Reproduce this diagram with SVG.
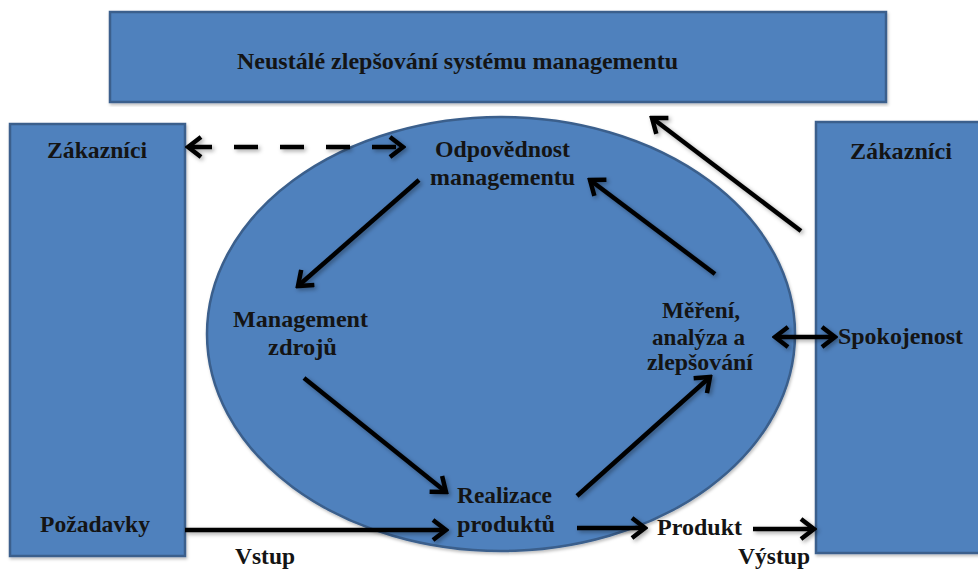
<svg xmlns="http://www.w3.org/2000/svg" width="978" height="569" viewBox="0 0 978 569">
  <style>
    .box { fill: #4F81BD; stroke: #3A5F8C; stroke-width: 2.5; }
    .lbl { font-family: "Liberation Serif", "Times New Roman", serif; font-weight: bold; font-size: 24px; fill: #141414; text-anchor: start; }
    .arrow { fill: none; stroke: #000; stroke-width: 4.5; }
    .dashed { stroke-dasharray: 24 22; }
  </style>
  <defs>
    <filter id="soft" x="-10%" y="-10%" width="120%" height="120%">
      <feDropShadow dx="2" dy="2" stdDeviation="2" flood-color="#000" flood-opacity="0.35"/>
    </filter>
    <filter id="boxShadow" x="-5%" y="-5%" width="110%" height="110%">
      <feDropShadow dx="1" dy="2" stdDeviation="1.5" flood-color="#000" flood-opacity="0.25"/>
    </filter>
    <marker id="head" viewBox="0 0 20 24" markerWidth="20" markerHeight="24" refX="17" refY="12" orient="auto-start-reverse" markerUnits="userSpaceOnUse">
      <path d="M4,2 L17,12 L4,22" fill="none" stroke="#000" stroke-width="4.5"/>
    </marker>
  </defs>

  <!-- Top banner -->
  <g id="node-improvement">
    <rect class="box" x="110" y="12" width="776" height="90" filter="url(#boxShadow)"/>
    <text class="lbl" x="237" y="69" textLength="441" lengthAdjust="spacingAndGlyphs">Neustálé zlepšování systému managementu</text>
  </g>

  <!-- Left customers column -->
  <g id="node-customers-in">
    <rect class="box" x="10" y="124" width="175" height="432" filter="url(#boxShadow)"/>
    <text class="lbl" x="47" y="158" textLength="100" lengthAdjust="spacingAndGlyphs">Zákazníci</text>
    <text class="lbl" x="40" y="532" textLength="110" lengthAdjust="spacingAndGlyphs">Požadavky</text>
  </g>

  <!-- Right customers column -->
  <g id="node-customers-out">
    <rect class="box" x="816" y="122" width="180" height="431" filter="url(#boxShadow)"/>
    <text class="lbl" x="850" y="159" textLength="102" lengthAdjust="spacingAndGlyphs">Zákazníci</text>
    <text class="lbl" x="838" y="344" textLength="125" lengthAdjust="spacingAndGlyphs">Spokojenost</text>
  </g>

  <!-- Central process cycle -->
  <g id="node-cycle">
    <ellipse class="box" cx="501" cy="334" rx="294" ry="217" filter="url(#boxShadow)"/>
  </g>

  <g id="node-responsibility">
    <text class="lbl" x="435" y="157" textLength="135" lengthAdjust="spacingAndGlyphs">Odpovědnost</text>
    <text class="lbl" x="430" y="185" textLength="145" lengthAdjust="spacingAndGlyphs">managementu</text>
  </g>

  <g id="node-resources">
    <text class="lbl" x="233" y="327" textLength="135" lengthAdjust="spacingAndGlyphs">Management</text>
    <text class="lbl" x="268" y="355" textLength="69" lengthAdjust="spacingAndGlyphs">zdrojů</text>
  </g>

  <g id="node-realization">
    <text class="lbl" x="457" y="503" textLength="95" lengthAdjust="spacingAndGlyphs">Realizace</text>
    <text class="lbl" x="457" y="532" textLength="98" lengthAdjust="spacingAndGlyphs">produktů</text>
  </g>

  <g id="node-measurement">
    <text class="lbl" x="662" y="318" textLength="78" lengthAdjust="spacingAndGlyphs">Měření,</text>
    <text class="lbl" x="652" y="345" textLength="93" lengthAdjust="spacingAndGlyphs">analýza a</text>
    <text class="lbl" x="647" y="370" textLength="106" lengthAdjust="spacingAndGlyphs">zlepšování</text>
  </g>

  <g id="node-product">
    <text class="lbl" x="657" y="535" textLength="85" lengthAdjust="spacingAndGlyphs">Produkt</text>
  </g>

  <g id="label-input">
    <text class="lbl" x="235" y="564" textLength="60" lengthAdjust="spacingAndGlyphs">Vstup</text>
  </g>

  <g id="label-output">
    <text class="lbl" x="738" y="564" textLength="72" lengthAdjust="spacingAndGlyphs">Výstup</text>
  </g>

  <!-- Connectors -->
  <g id="connectors" filter="url(#soft)">
    <line class="arrow dashed" x1="188" y1="147" x2="403" y2="147" marker-start="url(#head)" marker-end="url(#head)"/>
    <line class="arrow" x1="419" y1="180" x2="298" y2="286" marker-end="url(#head)"/>
    <line class="arrow" x1="304" y1="378" x2="446" y2="492" marker-end="url(#head)"/>
    <line class="arrow" x1="577" y1="496" x2="710" y2="377" marker-end="url(#head)"/>
    <line class="arrow" x1="715" y1="274" x2="590" y2="180" marker-end="url(#head)"/>
    <line class="arrow" x1="801" y1="231" x2="652" y2="118" marker-end="url(#head)"/>
    <line class="arrow" x1="775" y1="337" x2="835" y2="337" marker-start="url(#head)" marker-end="url(#head)"/>
    <line class="arrow" x1="185" y1="530" x2="446" y2="530" marker-end="url(#head)"/>
    <line class="arrow" x1="577" y1="528" x2="645" y2="528" marker-end="url(#head)"/>
    <line class="arrow" x1="753" y1="529" x2="814" y2="529" marker-end="url(#head)"/>
  </g>
</svg>
